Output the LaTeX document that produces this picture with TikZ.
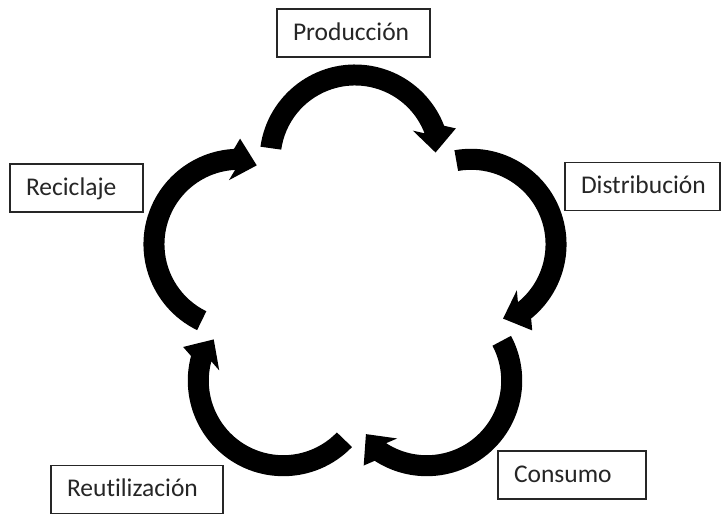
\documentclass[tikz,border=0pt]{standalone}
\usepackage{fontspec}
\setmainfont{Carlito}[Ligatures=NoCommon]
\usetikzlibrary{calc}
\begin{document}
\begin{tikzpicture}[x=1pt,y=1pt,
  lbl/.style={draw=black!85, line width=1.3pt, align=left, inner xsep=16pt, inner ysep=0pt,
    minimum height=48pt, text height=19pt, text depth=4pt, text=black!85,
    font=\fontsize{25.5}{30}\selectfont},
  cyclearrow/.style={fill=black}
]
\useasboundingbox (0,0) rectangle (721,514);
\fill[white] (0,0) rectangle (721,514);
\coordinate (O) at (355,232);
\foreach \k in {0,...,4} {
  \pgfmathsetmacro\d{90-72*\k}
  \pgfmathsetmacro\s{\d+82}
  \pgfmathsetmacro\e{\d-69}
  \pgfmathsetmacro\b{\e-18}
  \pgfmathsetmacro\bb{\e+162}
  \pgfmathsetmacro\f{\e-108}
  \coordinate (c\k) at ($(O)+(\d:122pt)$);
  \coordinate (B\k) at ($(c\k)+(\e:85pt)$);
  \fill[cyclearrow] ($(c\k)+(\s:95.5pt)$) arc[start angle=\s, end angle=\e, radius=95.5pt]
     -- ($(B\k)+(\b:21.5pt)$) -- ($(B\k)+(\f:23pt)$) -- ($(B\k)+(\bb:21.5pt)$)
     -- ($(c\k)+(\e:74.5pt)$) arc[start angle=\e, end angle=\s, radius=74.5pt] -- cycle;
}
\node[lbl, text width=121pt] (prod) at (353.5,481) {Producción};
\node[lbl, text width=123pt] (dist) at (642.5,327.5) {Distribución};
\node[lbl, text width=101pt] (reci) at (76.5,326) {Reciclaje};
\node[lbl, text width=116pt] (cons) at (572,39) {Consumo};
\node[lbl, text width=140pt] (reut) at (137,24.5) {Reutilización};
\end{tikzpicture}
\end{document}
